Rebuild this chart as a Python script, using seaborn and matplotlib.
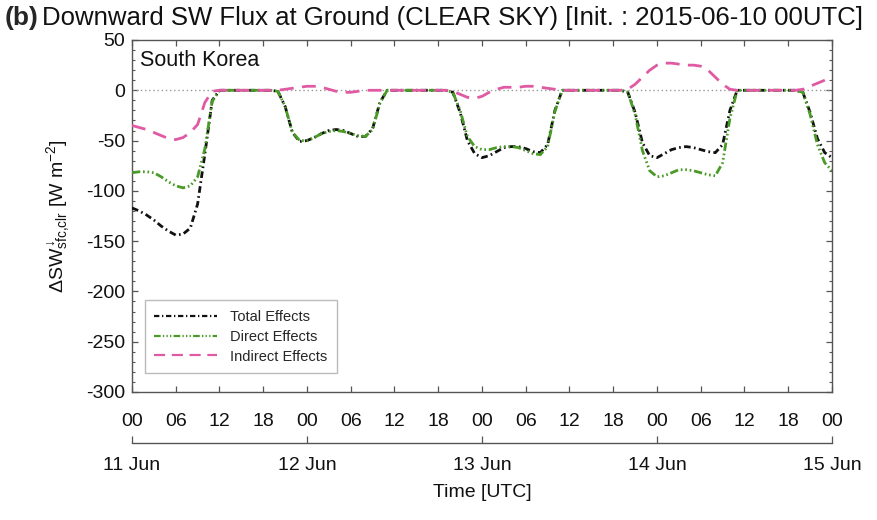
import numpy as np
import pandas as pd
import seaborn as sns
import matplotlib
matplotlib.use("Agg")
import matplotlib.pyplot as plt
from matplotlib.ticker import MultipleLocator

# ---------------- data (hourly, hours since 2015-06-11 00UTC) ----------------
hours = list(range(0, 97))

total_effects = (
    [-117, -120, -124, -129, -135, -140, -144, -143, -137, -113, -63, -10]
    + [0] * 8
    + [-1, -16, -42, -51, -50, -47, -43, -40, -39, -40, -43, -46, -46, -38, -12, 0]
    + [0] * 8
    + [-2, -22, -50, -63, -67, -65, -61, -57, -56, -56, -58, -61, -62, -54, -20, 0]
    + [0] * 8
    + [-2, -22, -52, -65, -67, -63, -59, -57, -56, -57, -59, -61, -62, -54, -20, 0]
    + [0] * 8
    + [-2, -22, -48, -62, -67]
)

direct_effects = (
    [-82, -81, -81, -82, -86, -91, -95, -97, -95, -86, -58, -11]
    + [0] * 8
    + [-1, -16, -42, -50, -50, -47, -43, -41, -40, -41, -43, -45, -46, -39, -13, 0]
    + [0] * 8
    + [-2, -20, -46, -56, -59, -59, -57, -56, -56, -57, -60, -63, -64, -56, -21, 0]
    + [0] * 8
    + [-2, -24, -60, -80, -86, -85, -82, -79, -79, -80, -82, -84, -85, -72, -28, 0]
    + [0] * 8
    + [-2, -24, -54, -72, -80]
)

indirect_effects = (
    [-35, -37, -39, -42, -45, -48, -49, -47, -42, -34, -12, -1]
    + [0] * 8
    + [0, 1, 2, 3, 4, 4, 3, 1, -1, -2, -2, -1, 0, 0, 0, 0]
    + [0] * 8
    + [-1, -4, -7, -8, -6, -2, 1, 3, 3, 3, 4, 4, 3, 2, 1, 0]
    + [0] * 8
    + [1, 6, 13, 20, 25, 27, 27, 26, 25, 25, 24, 20, 13, 6, 1, 0]
    + [0] * 8
    + [1, 4, 7, 10, 13]
)

series_names = ["Total Effects", "Direct Effects", "Indirect Effects"]
hour_ticks = list(range(0, 97, 6))
hour_tick_labels = ["00", "06", "12", "18"] * 4 + ["00"]
day_ticks = [0, 24, 48, 72, 96]
day_labels = ["11 Jun", "12 Jun", "13 Jun", "14 Jun", "15 Jun"]

# ---------------- styling ----------------
sns.set_theme(style="ticks")
plt.rcParams["font.family"] = ["Liberation Sans", "DejaVu Sans"]
plt.rcParams["axes.unicode_minus"] = False
plt.rcParams["mathtext.fontset"] = "custom"
plt.rcParams["mathtext.rm"] = "Liberation Sans"
plt.rcParams["mathtext.it"] = "Liberation Sans:italic"
plt.rcParams["mathtext.bf"] = "Liberation Sans:bold"

W, H = 878, 520
fig = plt.figure(figsize=(W / 100, H / 100), dpi=100)
ax = fig.add_axes([132 / W, 1 - 392 / H, 700 / W, 352 / H])

df = pd.DataFrame({
    "hour": hours * 3,
    "value": total_effects + direct_effects + indirect_effects,
    "effect": [series_names[0]] * len(hours)
    + [series_names[1]] * len(hours)
    + [series_names[2]] * len(hours),
})

palette = {"Total Effects": "#111111", "Direct Effects": "#4a9a28", "Indirect Effects": "#e05aa3"}
dashes = {
    "Total Effects": (2.4, 1.2, 0.6, 1.2),
    "Direct Effects": (3.0, 1.0, 0.6, 1.0, 0.6, 1.0, 0.6, 1.0),
    "Indirect Effects": (5.0, 3.0),
}

ax.axhline(0, color="#999999", lw=1.0, ls=(0, (1, 2)), zorder=1)

sns.lineplot(data=df, x="hour", y="value", hue="effect", style="effect",
             hue_order=series_names, style_order=series_names,
             palette=palette, dashes=dashes, linewidth=2.0,
             estimator=None, sort=False, ax=ax, zorder=3)

ax.set_xlim(0, 96)
ax.set_ylim(-300, 50)
ax.set_xticks(hour_ticks)
ax.set_xticklabels(hour_tick_labels)
ax.set_yticks(list(range(-300, 51, 50)))
ax.yaxis.set_minor_locator(MultipleLocator(10))
ax.set_xlabel("")
ax.set_ylabel("")

spine_col = "#555555"
for s in ax.spines.values():
    s.set_visible(True)
    s.set_color(spine_col)
    s.set_linewidth(1.0)

ax.tick_params(which="both", direction="in", top=True, right=True, color=spine_col)
ax.tick_params(which="major", length=4.5, width=0.9)
ax.tick_params(which="minor", length=2.3, width=0.8)
ax.tick_params(axis="x", which="minor", bottom=False, top=False)
ax.tick_params(axis="x", pad=15, labelsize=14, labelcolor="#111111")
ax.tick_params(axis="y", pad=5, labelsize=14, labelcolor="#111111")

# secondary date axis
sec = ax.secondary_xaxis(-51 / 352)
sec.set_xticks(day_ticks)
sec.set_xticklabels(day_labels)
sec.tick_params(direction="in", length=5, width=0.9, pad=10, labelsize=14,
                color=spine_col, labelcolor="#111111")
sec.spines["bottom"].set_color(spine_col)
sec.spines["bottom"].set_linewidth(1.0)
sec.set_xlabel("Time [UTC]", fontsize=14, labelpad=7, color="#111111")

# legend
handles, labels = ax.get_legend_handles_labels()
if ax.get_legend() is not None:
    ax.get_legend().remove()
leg = ax.legend(handles, labels, loc="lower left",
                bbox_to_anchor=((145 - 132) / 700, (392 - 373) / 352),
                fontsize=10.5, handlelength=4.3, handletextpad=0.9,
                borderpad=0.65, labelspacing=0.4, borderaxespad=0,
                frameon=True, fancybox=False, framealpha=1)
leg.get_frame().set_edgecolor("#bbbbbb")
leg.get_frame().set_linewidth(1.0)
for line in leg.get_lines():
    line.set_linewidth(1.6)

ax.text((140 - 132) / 700, (392 - 60) / 352, "South Korea", transform=ax.transAxes,
        fontsize=15.5, va="center", ha="left", color="#111111")

# titles
fig.text(5 / W, 1 - 18 / H, "(b)", fontsize=19, fontweight="bold", va="center", ha="left")
fig.text(42 / W, 1 - 18 / H, "Downward SW Flux at Ground (CLEAR SKY) [Init. : 2015-06-10 00UTC]",
         fontsize=18.5, va="center", ha="left", color="#111111")

fig.text(59 / W, 1 - 216 / H,
         r"$\Delta$SW$^{\downarrow}_{\mathrm{sfc{,}clr}}$ [W m$^{\mathrm{-2}}$]",
         rotation=90, fontsize=14, va="center", ha="center", color="#111111")

fig.savefig("out.png", dpi=100)
